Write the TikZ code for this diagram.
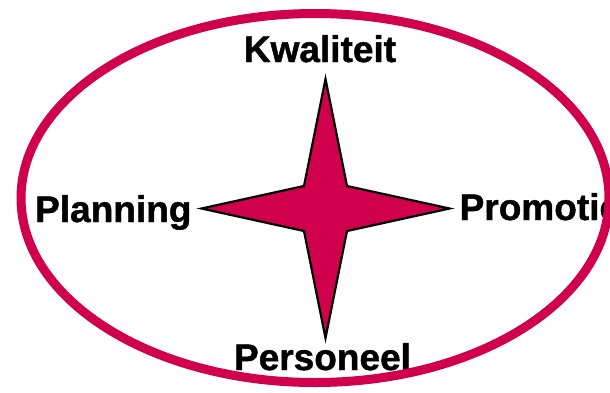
\documentclass[tikz,border=0pt]{standalone}
\usepackage{fontspec}
\setmainfont{Liberation Sans}
\newfontfamily\heavyfont{Liberation Sans Bold}[FakeBold=1.2]
\definecolor{crim}{RGB}{208,0,76}
\begin{document}
\begin{tikzpicture}[x=1pt,y=-1pt,
  lbl/.style={font=\fontsize{37}{37}\heavyfont, inner sep=0pt, anchor=base, text=black}]
\useasboundingbox (0,0) rectangle (610,392);
\clip (0,0) rectangle (610,392);
\fill[white] (0,0) rectangle (610,392);
\coordinate (c) at (325.5,208.5);
\filldraw[fill=crim, draw=black, line width=2.2, line join=miter]
  (325.5,79) -- (347,186) -- (449.5,208.5) -- (347,231) -- (325.5,338)
  -- (304,231) -- (201.5,208.5) -- (304,186) -- cycle;
\node[lbl] (k) at (320,62) {Kwaliteit};
\node[lbl, anchor=base west] (pl) at (35,222) {Planning};
\node[lbl, anchor=base west] (pr) at (459.5,220) {Promotie};
\node[lbl] (pe) at (322.5,370) {Personeel};
\draw[crim, line width=9] (315,198) ellipse [x radius=294, y radius=184.5];
\end{tikzpicture}
\end{document}
